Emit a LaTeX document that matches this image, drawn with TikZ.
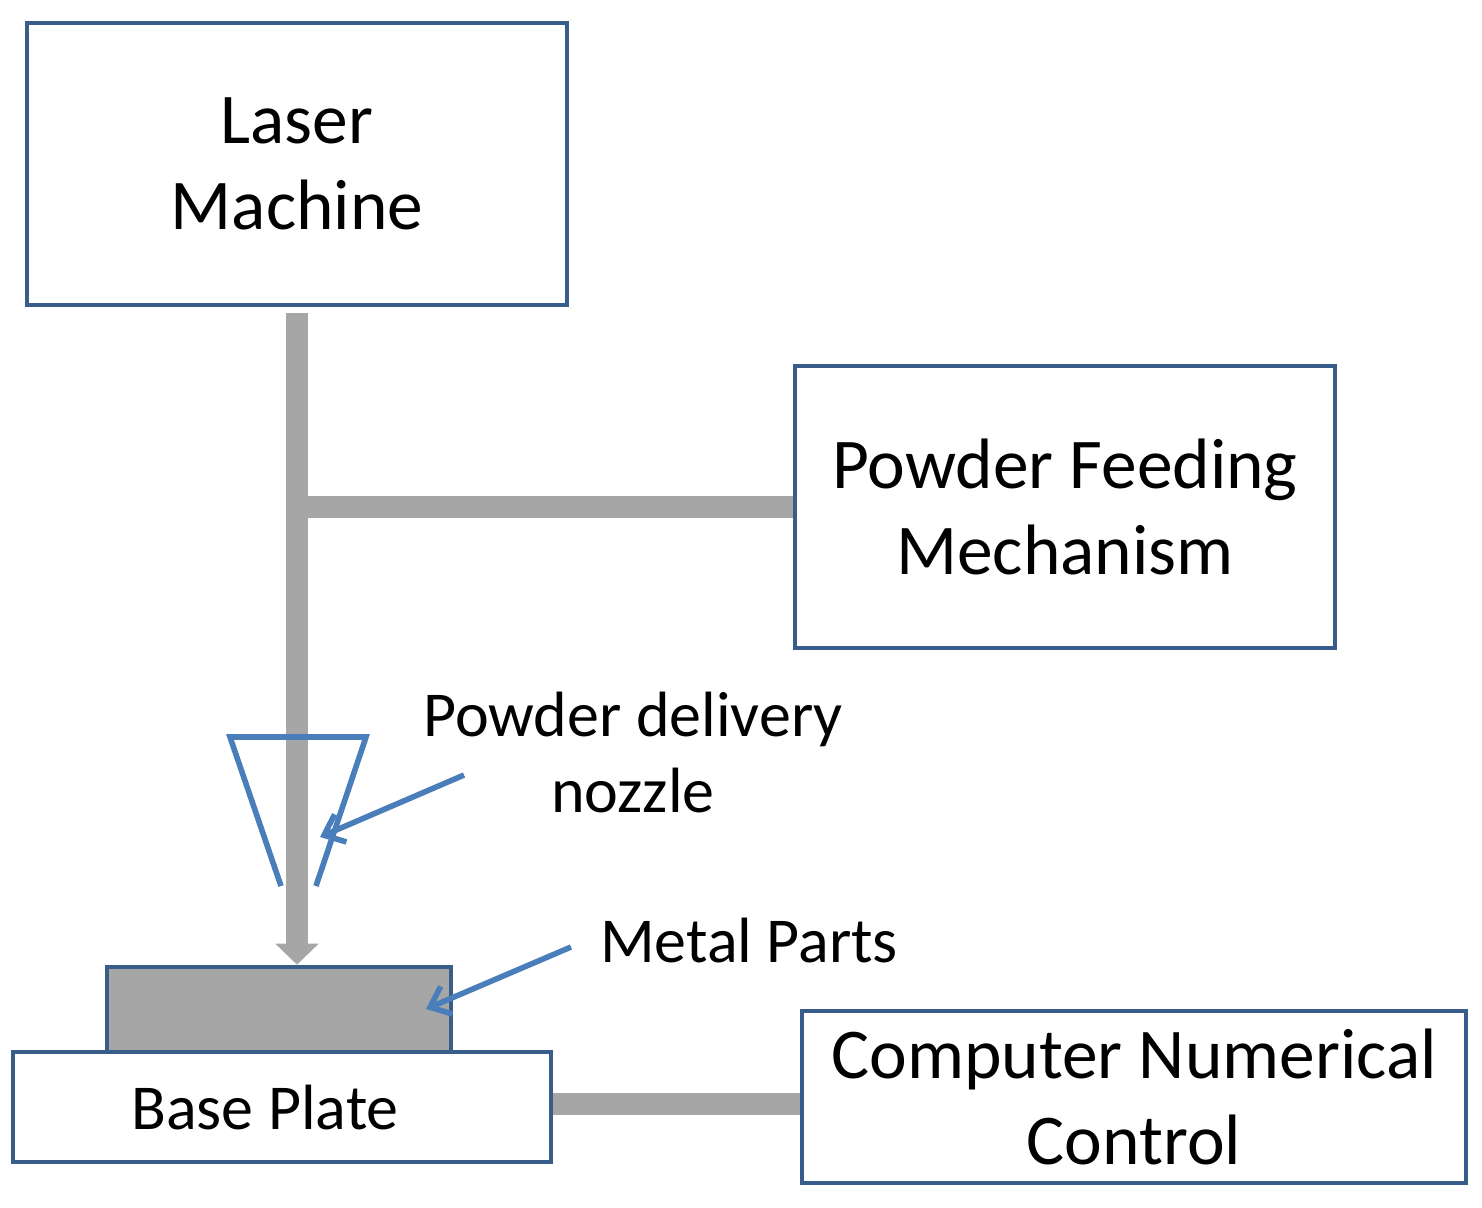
\documentclass[tikz,border=0pt]{standalone}
\usepackage{fontspec}
\setmainfont{Carlito}
\usetikzlibrary{arrows.meta, positioning}

\definecolor{bordbleu}{HTML}{385D8A}
\definecolor{flechebleu}{HTML}{4A7EBB}
\definecolor{faisceau}{HTML}{A6A6A6}

\tikzset{
    bloc/.style={draw=bordbleu, line width=2.3pt, fill=white, align=center,
        inner sep=0pt, font=\fontsize{35.7}{43}\selectfont},
    barre/.style={draw=faisceau, line width=11pt},
    etiquette/.style={align=center, font=\fontsize{32}{38}\selectfont},
    pointe/.style={draw=flechebleu, line width=2.8pt,
        -{Straight Barb[length=9pt, width=15pt, line width=2.8pt]}}
}

\begin{document}
\begin{tikzpicture}[x=0.5pt, y=-0.5pt]
    \useasboundingbox (0,0) rectangle (1482,1207);

                % Définitions des blocs
                \node[bloc, minimum width=270pt, minimum height=141pt] (laser) at (297,164) {Laser\\Machine};
                \node[bloc, minimum width=270pt, minimum height=141pt] (poudre) at (1065,507) {Powder Feeding\\Mechanism};
                \node[bloc, minimum width=332pt, minimum height=86pt] (cnc) at (1134,1097) {Computer Numerical\\Control};
                \node[bloc, minimum width=269pt, minimum height=55pt] (base) at (282,1107) {};
                \node[etiquette] (textebase) at (265,1107) {Base Plate};
                \node[bloc, fill=faisceau, minimum width=172pt, minimum height=42.5pt] (piece) at (279,1009.5) {};

                % Étiquettes
                \node[etiquette] (buse) at (633,752) {Powder delivery\\nozzle};
                \node[etiquette] (metal) at (749,940) {Metal Parts};

                % Faisceau et liaisons
                \draw[barre, shorten <=3pt, -{Triangle[width=21pt, length=10.5pt]}] (laser.south) -- (laser.south |- piece.north);
                \draw[barre] (laser.south |- poudre.west) -- (poudre.west);
                \draw[barre] (base.east |- 0,1104) -- (cnc.west |- 0,1104);

                % Buse
                \draw[draw=flechebleu, line width=2.8pt]
                    (281,886) -- (230,737) -- (366,737) -- (316,886);

                % Flèches
                \coordinate (a1) at (464,775);
                \coordinate (b1) at (320,837);
                \coordinate (a2) at (571,947);
                \coordinate (b2) at (426,1009);
                \draw[pointe] (a1) -- (b1);
                \draw[pointe] (a2) -- (b2);

            \end{tikzpicture}
\end{document}
